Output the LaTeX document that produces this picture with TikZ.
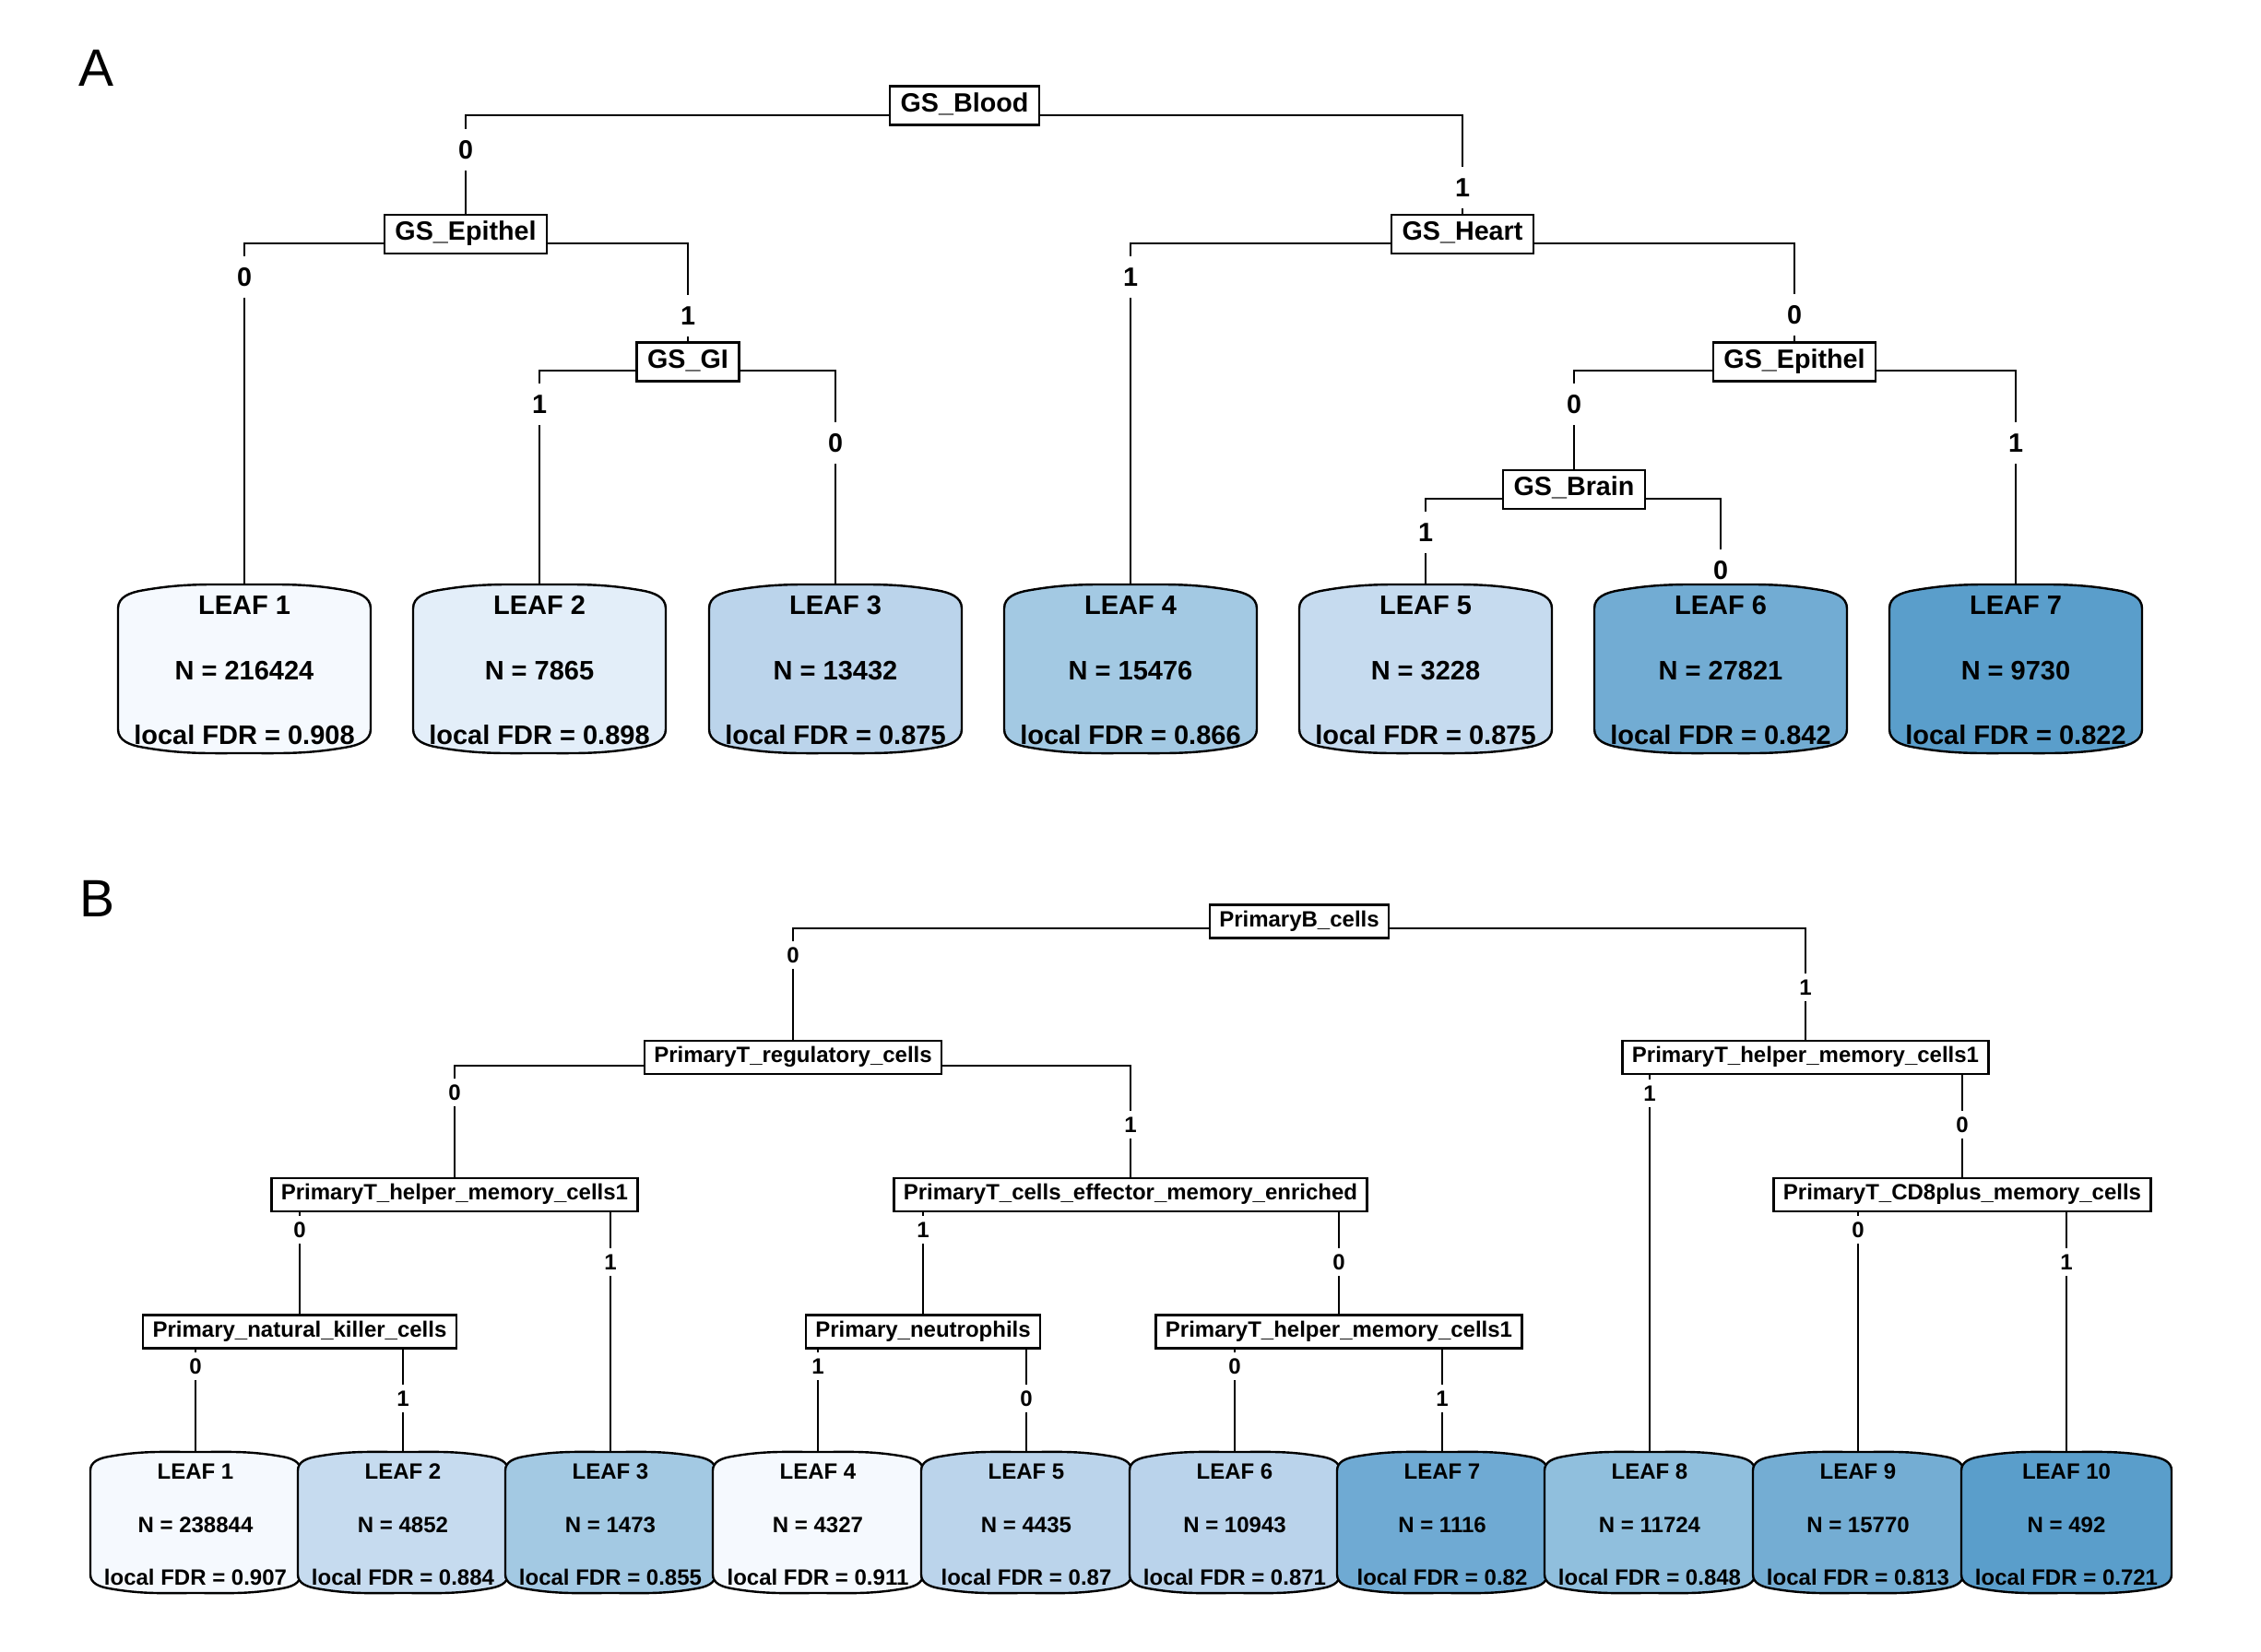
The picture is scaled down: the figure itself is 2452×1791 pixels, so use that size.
\documentclass[tikz,border=0pt]{standalone}
\usepackage{fontspec}
\setmainfont{Liberation Sans}
\usetikzlibrary{backgrounds}

\definecolor{leafA1}{HTML}{F5F9FE}
\definecolor{leafA2}{HTML}{E3EEF9}
\definecolor{leafA3}{HTML}{BBD4EB}
\definecolor{leafA4}{HTML}{A3C9E3}
\definecolor{leafA5}{HTML}{C6DBEF}
\definecolor{leafA6}{HTML}{72ACD3}
\definecolor{leafA7}{HTML}{5A9ECB}
\definecolor{leafB1}{HTML}{F5F9FE}
\definecolor{leafB2}{HTML}{C6DBEF}
\definecolor{leafB3}{HTML}{A3C9E3}
\definecolor{leafB4}{HTML}{F5F9FE}
\definecolor{leafB5}{HTML}{BBD4EB}
\definecolor{leafB6}{HTML}{BAD3EB}
\definecolor{leafB7}{HTML}{6FAAD3}
\definecolor{leafB8}{HTML}{90BFDD}
\definecolor{leafB9}{HTML}{74ADD3}
\definecolor{leafB10}{HTML}{5A9ECB}

% rounded leaf outline, centred on the origin
\newcommand\leafshape[3]{(-#1,-#2+#3) to[out=90,in=190] (-#1+#3,-#2+#3/4)
  to[out=10,in=180] (0,-#2) to[out=0,in=170] (#1-#3,-#2+#3/4)
  to[out=-10,in=90] (#1,-#2+#3) -- (#1,#2-#3)
  to[out=-90,in=10] (#1-#3,#2-#3/4) to[out=190,in=0] (0,#2)
  to[out=180,in=-10] (-#1+#3,#2-#3/4) to[out=170,in=-90] (-#1,#2-#3) -- cycle}

\tikzset{
  splitA/.style={draw, line width=2.4pt, fill=white, inner xsep=11.5pt, inner ysep=7pt,
    text height=20.6pt, text depth=7.2pt, font=\fontsize{28.7}{30}\selectfont\bfseries},
  splitB/.style={splitA, inner xsep=10.5pt, inner ysep=6.3pt,
    text height=17.2pt, text depth=6pt, font=\fontsize{24}{26}\selectfont\bfseries},
  edge/.style={line width=2pt},
  elabA/.style={fill=white, inner xsep=1pt, inner ysep=0pt, minimum height=45pt,
    text height=20.6pt, text depth=0pt, font=\fontsize{28.7}{30}\selectfont\bfseries},
  elabB/.style={elabA, minimum height=30pt, text height=17.2pt,
    font=\fontsize{24}{26}\selectfont\bfseries},
  leafline/.style={line width=2.4pt},
  leafnode/.style={inner sep=0pt, outer sep=0pt},
  leaftxtA/.style={inner sep=0pt, text height=20.8pt, text depth=0pt,
    font=\fontsize{29}{31}\selectfont\bfseries},
  leaftxtB/.style={inner sep=0pt, text height=17.2pt, text depth=0pt,
    font=\fontsize{24}{26}\selectfont\bfseries},
  panel/.style={inner sep=0pt, text height=41pt, text depth=0pt, font=\fontsize{57}{60}\selectfont}
}

\begin{document}
\begin{tikzpicture}[x=1pt,y=-1pt]
\useasboundingbox (0,0) rectangle (2452,1791);

%% A
\node[panel] at (105,73) {A};
\node[splitA] (blood) at (1046,114.5) {GS\_Blood};
\node[splitA] (epiA) at (505,254) {GS\_Epithel};
\node[splitA] (heart) at (1586,254) {GS\_Heart};
\node[splitA] (gi) at (746,392.5) {GS\_GI};
\node[splitA] (epiB) at (1946,392.5) {GS\_Epithel};
\node[splitA] (brain) at (1707,531) {GS\_Brain};

\foreach \i/\x/\n/\f in {1/265/216424/0.908, 2/585/7865/0.898, 3/906/13432/0.875,
    4/1226/15476/0.866, 5/1546/3228/0.875, 6/1866/27821/0.842, 7/2186/9730/0.822}{
  \filldraw[leafline, fill=leafA\i, shift={(\x,725.5)}] \leafshape{137}{91.5}{26};
  \node[leafnode, minimum width=274pt, minimum height=183pt] (lfA\i) at (\x,725.5) {};
  \node[leaftxtA] at (\x,656) {LEAF \i};
  \node[leaftxtA] at (\x,727) {N = \n};
  \node[leaftxtA] at (\x,797) {local FDR = \f};
}

\begin{pgfonlayer}{background}
\draw[edge] ([yshift=-10.5pt]blood.center) -| (epiA.north);
\draw[edge] ([yshift=-10.5pt]blood.center) -| (heart.north);
\draw[edge] ([yshift=-10pt]epiA.center) -| (lfA1.north);
\draw[edge] ([yshift=-10pt]epiA.center) -| (gi.north);
\draw[edge] ([yshift=-9.5pt]gi.center) -| (lfA2.north);
\draw[edge] ([yshift=-9.5pt]gi.center) -| (lfA3.north);
\draw[edge] ([yshift=-9.5pt]heart.center) -| (lfA4.north);
\draw[edge] ([yshift=-9.5pt]heart.center) -| (epiB.north);
\draw[edge] ([yshift=-9.5pt]epiB.center) -| (brain.north);
\draw[edge] ([yshift=-9.5pt]epiB.center) -| (lfA7.north);
\draw[edge] ([yshift=-10pt]brain.center) -| (lfA5.north);
\draw[edge] ([yshift=-10pt]brain.center) -| (lfA6.north);
% branch labels
\node[elabA] at (epiA.north |- 0,162) {0};
\node[elabA] at (heart.north |- 0,203) {1};
\node[elabA] at (lfA1.north |- 0,300) {0};
\node[elabA] at (gi.north |- 0,342) {1};
\node[elabA] at (lfA2.north |- 0,438) {1};
\node[elabA] at (lfA3.north |- 0,480) {0};
\node[elabA] at (lfA4.north |- 0,300) {1};
\node[elabA] at (epiB.north |- 0,341) {0};
\node[elabA] at (brain.north |- 0,438) {0};
\node[elabA] at (lfA7.north |- 0,480) {1};
\node[elabA] at (lfA5.north |- 0,577) {1};
\node[elabA] at (lfA6.north |- 0,618) {0};
\end{pgfonlayer}

%% B
\node[panel] at (106,974) {B};
\node[splitB] (bcell) at (1409,999.5) {PrimaryB\_cells};
\node[splitB] (treg) at (860,1147) {PrimaryT\_regulatory\_cells};
\node[splitB] (thelpR) at (1958,1147) {PrimaryT\_helper\_memory\_cells1};
\node[splitB] (thelpL) at (493,1296) {PrimaryT\_helper\_memory\_cells1};
\node[splitB] (teff) at (1226,1296) {PrimaryT\_cells\_effector\_memory\_enriched};
\node[splitB] (cd8) at (2128,1296) {PrimaryT\_CD8plus\_memory\_cells};
\node[splitB] (nk) at (325,1444.5) {Primary\_natural\_killer\_cells};
\node[splitB] (neut) at (1001,1444.5) {Primary\_neutrophils};
\node[splitB] (thelpM) at (1452,1444.5) {PrimaryT\_helper\_memory\_cells1};

\foreach \i/\x/\n/\f in {1/212/238844/0.907, 2/437/4852/0.884, 3/662/1473/0.855,
    4/887/4327/0.911, 5/1113/4435/0.87, 6/1339/10943/0.871, 7/1564/1116/0.82,
    8/1789/11724/0.848, 9/2015/15770/0.813, 10/2241/492/0.721}{
  \filldraw[leafline, fill=leafB\i, shift={(\x,1651.5)}] \leafshape{114}{76.5}{20};
  \node[leafnode, minimum width=228pt, minimum height=153pt] (lfB\i) at (\x,1651.5) {};
  \node[leaftxtB] at (\x,1596) {LEAF \i};
  \node[leaftxtB] at (\x,1654) {N = \n};
  \node[leaftxtB] at (\x,1711) {local FDR = \f};
}

\begin{pgfonlayer}{background}
\draw[edge] ([yshift=-7.5pt]bcell.center) -| (treg.north);
\draw[edge] ([yshift=-7.5pt]bcell.center) -| (thelpR.north);
\draw[edge] ([yshift=-9pt]treg.center) -| (thelpL.north);
\draw[edge] ([yshift=-9pt]treg.center) -| (teff.north);
\draw[edge] ([yshift=-9pt]thelpL.center) -| (nk.north);
\draw[edge] ([yshift=-9pt]thelpL.center) -| (lfB3.north);
\draw[edge] ([yshift=-9pt]nk.center) -| (lfB1.north);
\draw[edge] ([yshift=-9pt]nk.center) -| (lfB2.north);
\draw[edge] ([yshift=-9pt]teff.center) -| (neut.north);
\draw[edge] ([yshift=-9pt]teff.center) -| (thelpM.north);
\draw[edge] ([yshift=-9pt]neut.center) -| (lfB4.north);
\draw[edge] ([yshift=-9pt]neut.center) -| (lfB5.north);
\draw[edge] ([yshift=-9pt]thelpM.center) -| (lfB6.north);
\draw[edge] ([yshift=-9pt]thelpM.center) -| (lfB7.north);
\draw[edge] ([yshift=-9pt]thelpR.center) -| (lfB8.north);
\draw[edge] ([yshift=-9pt]thelpR.center) -| (cd8.north);
\draw[edge] ([yshift=-9pt]cd8.center) -| (lfB9.north);
\draw[edge] ([yshift=-9pt]cd8.center) -| (lfB10.north);
% branch labels
\node[elabB] at (treg.north |- 0,1036) {0};
\node[elabB] at (thelpR.north |- 0,1071) {1};
\node[elabB] at (thelpL.north |- 0,1185) {0};
\node[elabB] at (teff.north |- 0,1220) {1};
\node[elabB] at (nk.north |- 0,1334) {0};
\node[elabB] at (lfB3.north |- 0,1369) {1};
\node[elabB] at (lfB1.north |- 0,1482) {0};
\node[elabB] at (lfB2.north |- 0,1517) {1};
\node[elabB] at (neut.north |- 0,1334) {1};
\node[elabB] at (thelpM.north |- 0,1369) {0};
\node[elabB] at (lfB4.north |- 0,1482) {1};
\node[elabB] at (lfB5.north |- 0,1517) {0};
\node[elabB] at (lfB6.north |- 0,1482) {0};
\node[elabB] at (lfB7.north |- 0,1517) {1};
\node[elabB] at (lfB8.north |- 0,1186) {1};
\node[elabB] at (cd8.north |- 0,1220) {0};
\node[elabB] at (lfB9.north |- 0,1334) {0};
\node[elabB] at (lfB10.north |- 0,1369) {1};
\end{pgfonlayer}
\end{tikzpicture}
\end{document}
